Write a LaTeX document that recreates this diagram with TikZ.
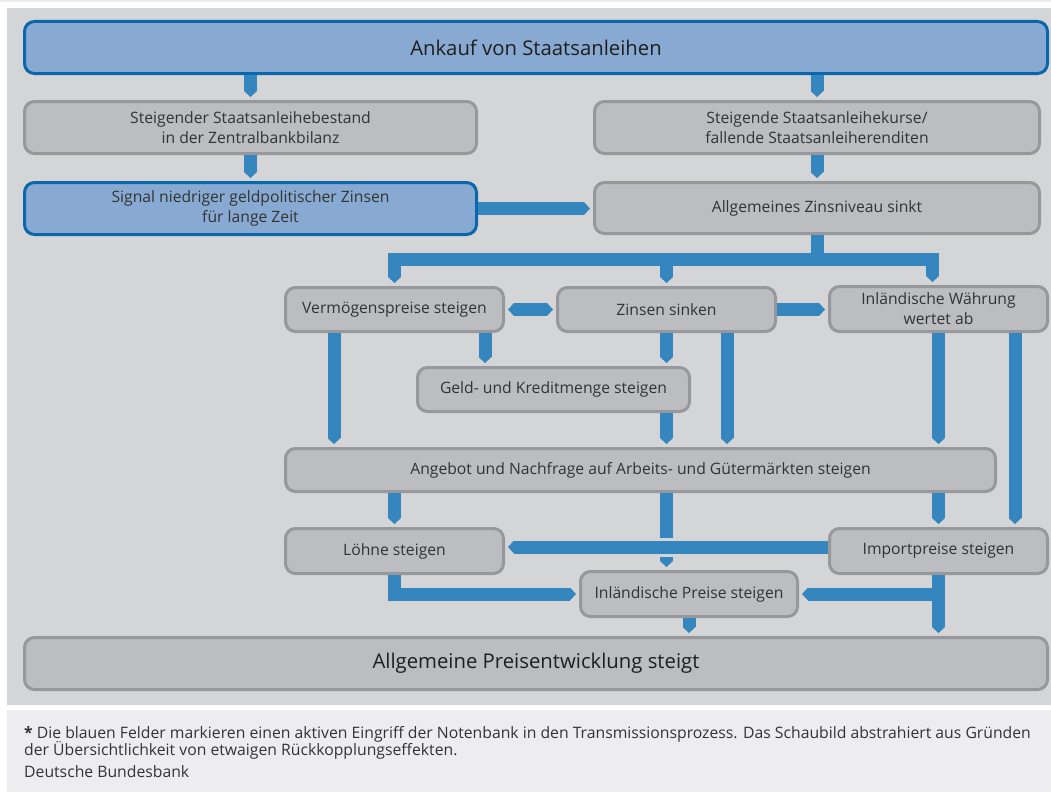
\documentclass[tikz,border=0pt]{standalone}
\usepackage{fontspec}
\setmainfont{Open Sans}
\usetikzlibrary{arrows.meta}
\definecolor{panel}{HTML}{D4D5D7}
\definecolor{foot}{HTML}{EDEDEF}
\definecolor{strip}{HTML}{ECECEE}
\definecolor{gfill}{HTML}{BCBDC1}
\definecolor{gborder}{HTML}{97989C}
\definecolor{bfill}{HTML}{88AAD2}
\definecolor{bborder}{HTML}{0B67AB}
\definecolor{barblue}{HTML}{3586BE}
\definecolor{txt}{HTML}{333333}
\tikzset{
  gbox/.style={draw=gborder, fill=gfill, line width=3pt, rounded corners=10pt,
    text=txt, align=center, inner sep=0pt,
    font=\fontsize{15.7}{20}\selectfont},
  bbox/.style={gbox, draw=bborder, fill=bfill},
  bigtext/.style={font=\fontsize{20.3}{24}\selectfont, text=black!88},
  bar/.style={draw=barblue, line width=13pt, line join=miter,
    -{Triangle[width=13pt,length=6pt,line width=0pt]}, shorten >=3pt},
  dbar/.style={draw=barblue, line width=13pt,
    {Triangle[width=13pt,length=6pt,line width=0pt]}-{Triangle[width=13pt,length=6pt,line width=0pt]},
    shorten >=3pt, shorten <=3pt},
  foottext/.style={anchor=base west, inner sep=0pt, text=txt, font=\fontsize{15.75}{16.5}\selectfont},
}
\begin{document}
\begin{tikzpicture}[x=1pt,y=-1pt]
\fill[white] (0,0) rectangle (1051,792);
\useasboundingbox (0,0) rectangle (1051,792);
\fill[strip] (0,0) rectangle (1051,2.5);
\fill[panel] (7,8) rectangle (1051,705);
\fill[foot] (7,710) rectangle (1051,792);

% boxes
\node[bbox, minimum width=1023, minimum height=52, bigtext] (ank) at (536,47.5) {Ankauf von Staatsanleihen};
\node[gbox, minimum width=452, minimum height=52] (stb) at (250.5,127.5) {Steigender Staatsanleihebestand\\in der Zentralbankbilanz};
\node[bbox, minimum width=452, minimum height=52] (sig) at (250.5,208.5) {Signal niedriger geldpolitischer Zinsen\\für lange Zeit};
\node[gbox, minimum width=445, minimum height=52] (kur) at (817,127.5) {Steigende Staatsanleihekurse/\\fallende Staatsanleiherenditen};
\node[gbox, minimum width=445, minimum height=51] (zn) at (817,208) {Allgemeines Zinsniveau sinkt};
\node[gbox, minimum width=218, minimum height=44] (verm) at (394.5,309.5) {Vermögenspreise steigen};
\node[gbox, minimum width=218, minimum height=44] (zs) at (666.5,309.5) {Zinsen sinken};
\node[gbox, minimum width=218, minimum height=45] (wa) at (938.5,309) {Inländische Währung\\wertet ab};
\node[gbox, minimum width=272, minimum height=44] (geld) at (553.5,389.5) {Geld- und Kreditmenge steigen};
\node[gbox, minimum width=710, minimum height=43] (ang) at (640.5,470) {Angebot und Nachfrage auf Arbeits- und Gütermärkten steigen};
\node[gbox, minimum width=218, minimum height=45] (loh) at (394.5,551) {Löhne steigen};
\node[gbox, minimum width=218, minimum height=45] (imp) at (938.5,551) {Importpreise steigen};
\node[gbox, minimum width=217, minimum height=45] (inl) at (689,594) {Inländische Preise steigen};
\node[gbox, minimum width=1023, minimum height=52, bigtext] (alg) at (536,663.5) {Allgemeine Preisentwicklung steigt};

% helper coordinates
\coordinate (jn) at (0,259);
\coordinate (wan) at ([xshift=-6pt]wa.north);
\coordinate (v1) at ([xshift=-60.5pt]verm.south);
\coordinate (v2) at ([xshift=90.5pt]verm.south);
\coordinate (z2) at ([xshift=60.5pt]zs.south);
\coordinate (w2) at ([xshift=76.5pt]wa.south);
\coordinate (i1) at ([yshift=4pt]imp.west);

% connectors
\draw[bar] (ank.south -| stb.north) -- (stb.north);
\draw[bar] (ank.south -| kur.north) -- (kur.north);
\draw[bar] (stb.south) -- (sig.north);
\draw[bar] (kur.south) -- (zn.north);
\draw[bar] (sig.east) -- (sig.east -| zn.west);
\draw[bar] (zn.south) |- (jn -| verm.north) -- (verm.north);
\draw[bar] (zn.south) |- (jn -| wan) -- (wan);
\draw[bar] (jn -| zs.north) -- (zs.north);
\draw[dbar] (verm.east) -- (zs.west);
\draw[bar] (zs.east) -- (zs.east -| wa.west);
\draw[bar] (v1) -- (v1 |- ang.north);
\draw[bar] (v2) -- (v2 |- geld.north);
\draw[bar] (zs.south) -- (zs.south |- geld.north);
\draw[bar] (geld.south -| zs.south) -- (zs.south |- ang.north);
\draw[bar] (z2) -- (z2 |- ang.north);
\draw[bar] (wa.south) -- (wa.south |- ang.north);
\draw[bar] (w2) -- (w2 |- imp.north);
\draw[bar] (ang.south -| loh.north) -- (loh.north);
\draw[bar] (ang.south -| zs.south) -- (zs.south |- inl.north);
\draw[bar] (ang.south -| imp.north) -- (imp.north);
\fill[panel] ([shift={(-8pt,9.5pt)}]zs.south |- i1) rectangle ([shift={(8pt,-9.5pt)}]zs.south |- i1);
\draw[bar] (i1) -- (i1 -| loh.east);
\draw[bar] (loh.south) |- (inl.west);
\draw[bar] (imp.south) |- (inl.east);
\draw[bar] (imp.south) -- (imp.south |- alg.north);
\draw[bar] (inl.south) -- (inl.south |- alg.north);

% footnote
\node[foottext] (fn1) at (24,738.5) {\textbf{*} Die blauen Felder markieren einen aktiven Eingriff der Notenbank in den Transmissionsprozess. Das Schaubild abstrahiert aus Gründen};
\node[foottext] (fn2) at (24,755) {der Übersichtlichkeit von etwaigen Rückkopplungseffekten.};
\node[foottext] (src) at (24,777.5) {Deutsche Bundesbank};
\end{tikzpicture}
\end{document}
